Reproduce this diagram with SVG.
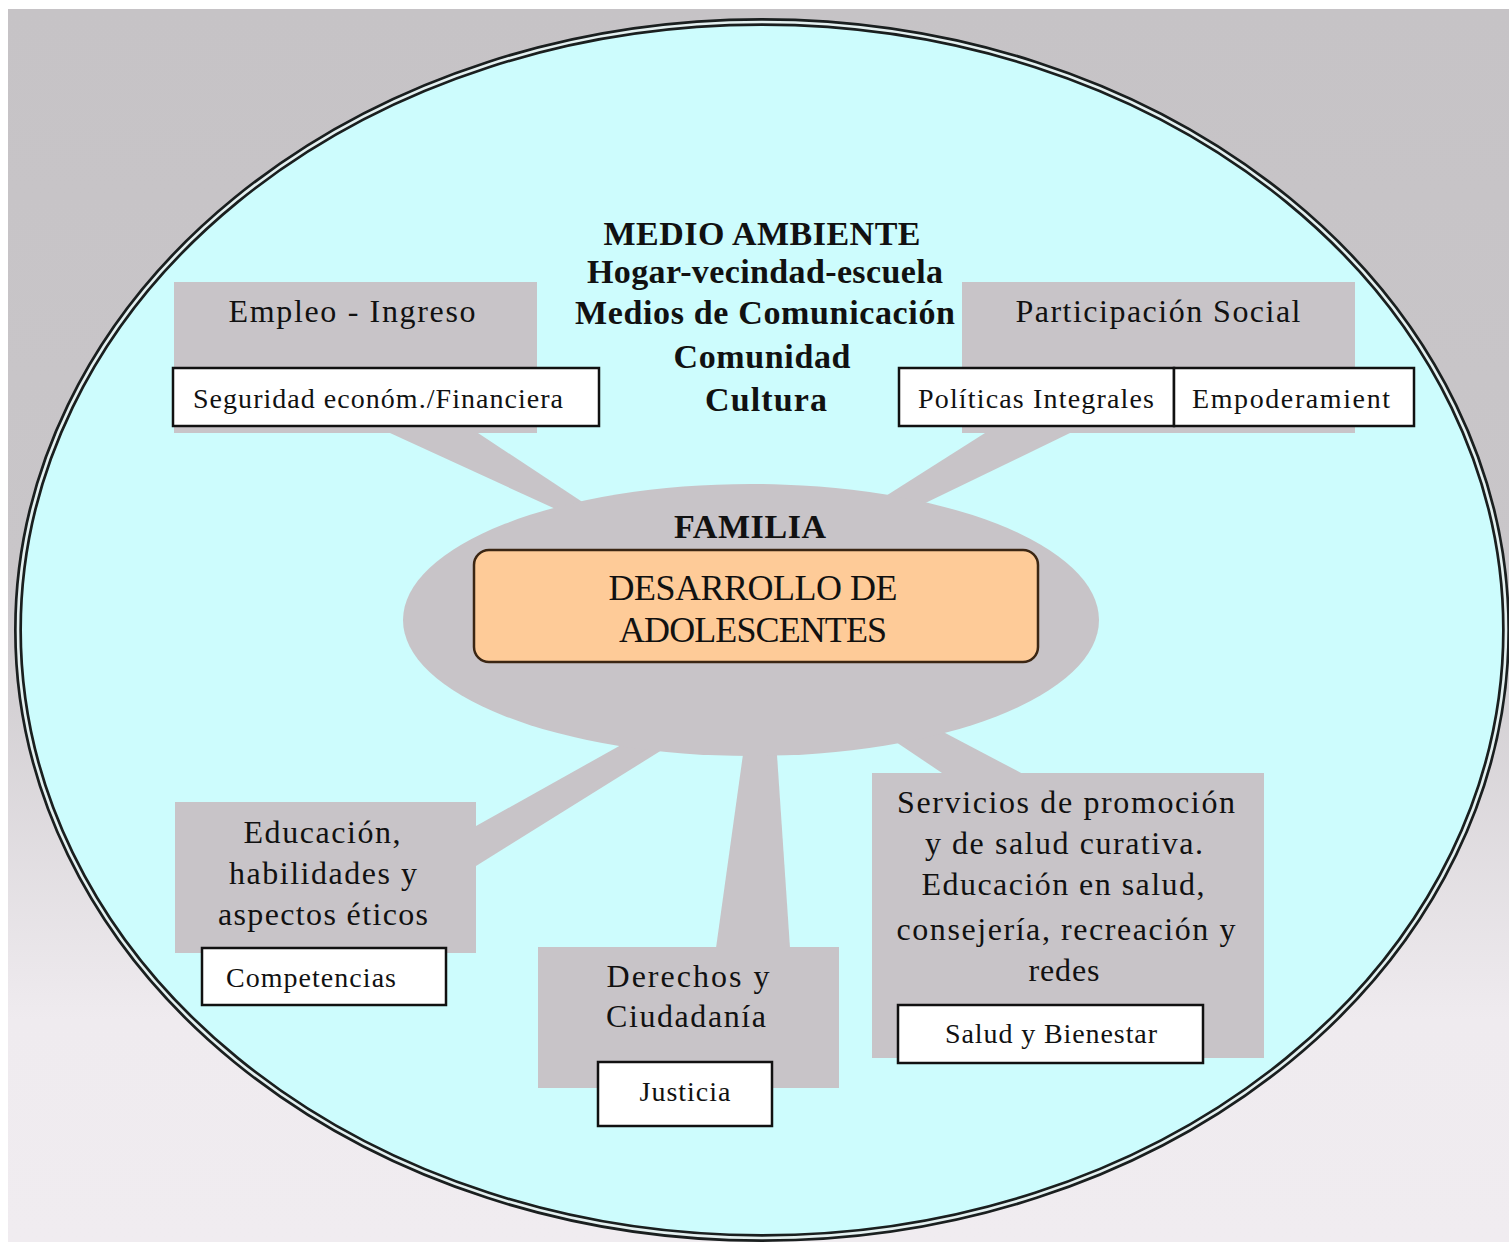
<svg xmlns="http://www.w3.org/2000/svg" width="1509" height="1243" viewBox="0 0 1509 1243">
<defs>
<linearGradient id="bg" x1="0" y1="0" x2="0" y2="1">
<stop offset="0" stop-color="#c6c3c6"/>
<stop offset="0.45" stop-color="#c9c6c9"/>
<stop offset="0.82" stop-color="#efebef"/>
<stop offset="1" stop-color="#f0ecf0"/>
</linearGradient>
<style>
.t{font-family:"Liberation Serif","Times New Roman",serif;fill:#111;text-anchor:middle}
.b{font-weight:bold;font-size:34px}
.n{font-size:32px}
.s{font-size:28px}
.c{font-size:36px}
.gray{fill:#c8c4c8}
.wb{fill:#fff;stroke:#111;stroke-width:2.5}
.spoke{fill:#c8c4c8}
</style>
</defs>
<rect x="0" y="0" width="1509" height="1243" fill="#fff"/>
<rect x="8" y="9" width="1501" height="1233" fill="url(#bg)"/>
<g id="medio-ambiente">
<ellipse cx="762" cy="630" rx="744" ry="608" fill="#cdfcfd" stroke="#1a1f1f" stroke-width="8"/>
<ellipse cx="762" cy="630" rx="744" ry="608" fill="none" stroke="#e4f0f0" stroke-width="2.6"/>
<text class="t b" x="762" y="245" textLength="317" lengthAdjust="spacing">MEDIO AMBIENTE</text>
<text class="t b" x="765" y="283" textLength="356" lengthAdjust="spacing">Hogar-vecindad-escuela</text>
<text class="t b" x="765" y="324" textLength="380" lengthAdjust="spacing">Medios de Comunicación</text>
<text class="t b" x="762" y="368" textLength="177" lengthAdjust="spacing">Comunidad</text>
<text class="t b" x="766" y="411" textLength="122" lengthAdjust="spacing">Cultura</text>
</g>
<g id="connectors">
<polygon class="spoke" points="390,433 478,433 590,507 560,511"/>
<polygon class="spoke" points="985,433 1070,433 915,508 870,506"/>
<polygon class="spoke" points="476,826 476,866 670,745 630,740"/>
<polygon class="spoke" points="745,740 776,740 790,948 716,948"/>
<polygon class="spoke" points="890,738 930,725 1025,775 945,775"/>
</g>
<g id="familia">
<ellipse cx="751" cy="620" rx="348" ry="136" fill="#c8c4c8"/>
<text class="t b" x="750" y="538" textLength="152" lengthAdjust="spacing">FAMILIA</text>
</g>
<g id="desarrollo">
<rect x="474" y="550" width="564" height="112" rx="15" fill="#fecb98" stroke="#3b2613" stroke-width="2.5"/>
<text class="t c" x="753" y="600" textLength="289" lengthAdjust="spacing">DESARROLLO DE</text>
<text class="t c" x="753" y="642" textLength="268" lengthAdjust="spacing">ADOLESCENTES</text>
</g>
<g id="empleo">
<rect class="gray" x="174" y="282" width="363" height="151"/>
<text class="t n" x="352" y="322" textLength="247" lengthAdjust="spacing">Empleo - Ingreso</text>
<rect class="wb" x="173" y="368" width="426" height="58"/>
<text class="t s" x="378" y="408" textLength="370" lengthAdjust="spacing">Seguridad económ./Financiera</text>
</g>
<g id="participacion">
<rect class="gray" x="962" y="282" width="393" height="151"/>
<text class="t n" x="1158" y="322" textLength="285" lengthAdjust="spacing">Participación Social</text>
<rect class="wb" x="899" y="368" width="275" height="58"/>
<text class="t s" x="1036" y="408" textLength="236" lengthAdjust="spacing">Políticas Integrales</text>
<rect class="wb" x="1174" y="368" width="240" height="58"/>
<text class="t s" x="1291" y="408" textLength="198" lengthAdjust="spacing">Empoderamient</text>
</g>
<g id="educacion">
<rect class="gray" x="175" y="802" width="301" height="151"/>
<text class="t n" x="322" y="843" textLength="157" lengthAdjust="spacing">Educación,</text>
<text class="t n" x="323" y="884" textLength="188" lengthAdjust="spacing">habilidades y</text>
<text class="t n" x="323" y="925" textLength="210" lengthAdjust="spacing">aspectos éticos</text>
<rect class="wb" x="202" y="948" width="244" height="57"/>
<text class="t s" x="311" y="987" textLength="170" lengthAdjust="spacing">Competencias</text>
</g>
<g id="derechos">
<rect class="gray" x="538" y="947" width="301" height="141"/>
<text class="t n" x="688" y="987" textLength="163" lengthAdjust="spacing">Derechos y</text>
<text class="t n" x="686" y="1027" textLength="160" lengthAdjust="spacing">Ciudadanía</text>
<rect class="wb" x="598" y="1062" width="174" height="64"/>
<text class="t s" x="685" y="1101" textLength="91" lengthAdjust="spacing">Justicia</text>
</g>
<g id="servicios">
<rect class="gray" x="872" y="773" width="392" height="285"/>
<text class="t n" x="1066" y="813" textLength="338" lengthAdjust="spacing">Servicios de promoción</text>
<text class="t n" x="1064" y="854" textLength="278" lengthAdjust="spacing">y de salud curativa.</text>
<text class="t n" x="1063" y="895" textLength="283" lengthAdjust="spacing">Educación en salud,</text>
<text class="t n" x="1066" y="940" textLength="339" lengthAdjust="spacing">consejería, recreación y</text>
<text class="t n" x="1064" y="981" textLength="71" lengthAdjust="spacing">redes</text>
<rect class="wb" x="898" y="1005" width="305" height="58"/>
<text class="t s" x="1051" y="1043" textLength="212" lengthAdjust="spacing">Salud y Bienestar</text>
</g>
</svg>
